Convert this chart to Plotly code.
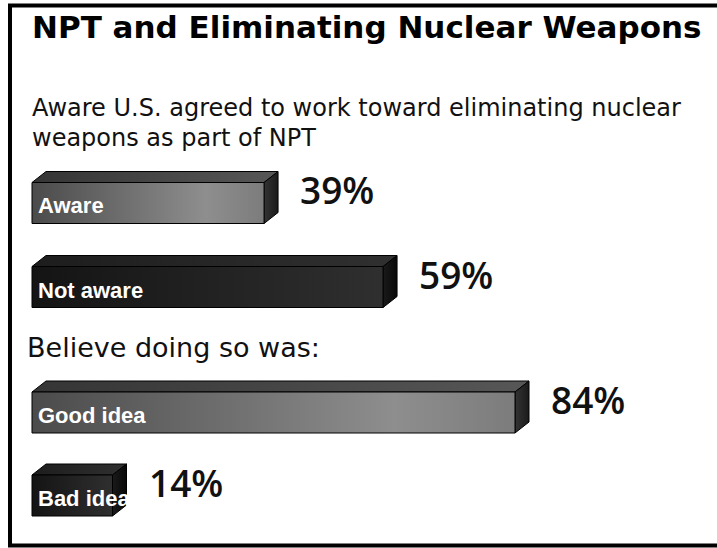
import plotly.graph_objects as go

# ---------------- data ----------------
title_text = "NPT and Eliminating Nuclear Weapons"
question_lines = ["Aware U.S. agreed to work toward eliminating nuclear",
                  "weapons as part of NPT"]
followup_text = "Believe doing so was:"

aware_categories = ["Aware", "Not aware"]
aware_values = [39, 59]

idea_categories = ["Good idea", "Bad idea"]
idea_values = [84, 14]

# ---------------- style ----------------
W, H = 717, 548
LEFT_PX = 32            # pixel where 0% sits
DEPTH_X, DEPTH_Y = 14, 11   # 3-D depth in px
BAR_PX = 41             # front face height in px

LIGHT = dict(front=[[0, "#4b4b4b"], [0.75, "#8e8e8e"], [1, "#7c7c7c"]],
             top=[[0, "#353535"], [1, "#575757"]],
             side=[[0, "#343434"], [1, "#1a1a1a"]])
DARK = dict(front=[[0, "#141414"], [1, "#2f2f2f"]],
            top=[[0, "#1d1d1d"], [1, "#303030"]],
            side=[[0, "#1a1a1a"], [1, "#080808"]])

groups = [
    dict(cats=aware_categories, vals=aware_values, shades=[LIGHT, DARK],
         xa="x", ya="y", px_per_unit=5.95, dom_px=(161, 329)),
    dict(cats=idea_categories, vals=idea_values, shades=[LIGHT, DARK],
         xa="x2", ya="y2", px_per_unit=5.75, dom_px=(371, 537)),
]

fig = go.Figure()
annotations = []

for g in groups:
    n = len(g["cats"])
    band_px = (g["dom_px"][1] - g["dom_px"][0]) / n
    hh = BAR_PX / band_px / 2
    dxu = DEPTH_X / g["px_per_unit"]
    dyu = DEPTH_Y / band_px
    for i, (cat, v, shade) in enumerate(zip(g["cats"], g["vals"], g["shades"])):
        common = dict(mode="lines", fill="toself", hoverinfo="skip", showlegend=False,
                      line=dict(color="#000000", width=1), xaxis=g["xa"], yaxis=g["ya"])
        # top face
        fig.add_trace(go.Scatter(
            x=[0, v, v + dxu, dxu, 0],
            y=[i - hh, i - hh, i - hh - dyu, i - hh - dyu, i - hh],
            fillgradient=dict(type="horizontal", colorscale=shade["top"]), **common))
        # side face
        fig.add_trace(go.Scatter(
            x=[v, v + dxu, v + dxu, v, v],
            y=[i - hh, i - hh - dyu, i + hh - dyu, i + hh, i - hh],
            fillgradient=dict(type="horizontal", colorscale=shade["side"]), **common))
        # front face
        fig.add_trace(go.Scatter(
            x=[0, v, v, 0, 0],
            y=[i - hh, i - hh, i + hh, i + hh, i - hh],
            fillgradient=dict(type="horizontal", colorscale=shade["front"]), **common))
        # label inside bar
        annotations.append(dict(
            xref=g["xa"], yref=g["ya"], x=0, y=i, xanchor="left", yanchor="middle",
            xshift=4, yshift=-3, showarrow=False, text=cat,
            font=dict(family="Liberation Sans, Arial", size=22, color="white", weight="bold")))
        # value label
        annotations.append(dict(
            xref=g["xa"], yref=g["ya"], x=v, y=i, xanchor="left", yanchor="middle",
            xshift=DEPTH_X + 20, yshift=13, showarrow=False, text=f"{v}%",
            font=dict(family="Open Sans", size=37, color="#111111", weight=600)))

# text blocks
annotations += [
    dict(xref="paper", yref="paper", x=30 / W, y=1 - 27 / H, xanchor="left", yanchor="middle",
         text=f"<b>{title_text}</b>", showarrow=False,
         font=dict(family="DejaVu Sans", size=31, color="#000000")),
    dict(xref="paper", yref="paper", x=30 / W, y=1 - 108 / H, xanchor="left", yanchor="middle",
         text=question_lines[0], showarrow=False,
         font=dict(family="DejaVu Sans", size=24, color="#111111")),
    dict(xref="paper", yref="paper", x=30 / W, y=1 - 138 / H, xanchor="left", yanchor="middle",
         text=question_lines[1], showarrow=False,
         font=dict(family="DejaVu Sans", size=24, color="#111111")),
    dict(xref="paper", yref="paper", x=25 / W, y=1 - 347 / H, xanchor="left", yanchor="middle",
         text=followup_text, showarrow=False,
         font=dict(family="DejaVu Sans", size=27, color="#111111")),
]

axis_off = dict(visible=False, showgrid=False, zeroline=False, fixedrange=True)
layout = dict(
    width=W, height=H, margin=dict(l=0, r=0, t=0, b=0),
    paper_bgcolor="white", plot_bgcolor="white",
    annotations=annotations,
    shapes=[dict(type="rect", xref="paper", yref="paper",
                 x0=10 / W, x1=1.02, y0=1 - 545.5 / H, y1=1 - 5.5 / H,
                 line=dict(color="black", width=4))],
)
for k, g in enumerate(groups):
    sfx = "" if k == 0 else str(k + 1)
    ppu = g["px_per_unit"]
    n = len(g["cats"])
    layout["xaxis" + sfx] = dict(axis_off, domain=[0, 1],
                                 range=[-LEFT_PX / ppu, (W - LEFT_PX) / ppu],
                                 anchor="y" + sfx)
    layout["yaxis" + sfx] = dict(axis_off,
                                 domain=[1 - g["dom_px"][1] / H, 1 - g["dom_px"][0] / H],
                                 range=[n - 0.5, -0.5], anchor="x" + sfx)
fig.update_layout(**layout)

fig.write_html("out.html", include_plotlyjs=True,
               config=dict(displayModeBar=False, staticPlot=True),
               post_script="document.body.style.margin='0';document.body.style.overflow='hidden';")
